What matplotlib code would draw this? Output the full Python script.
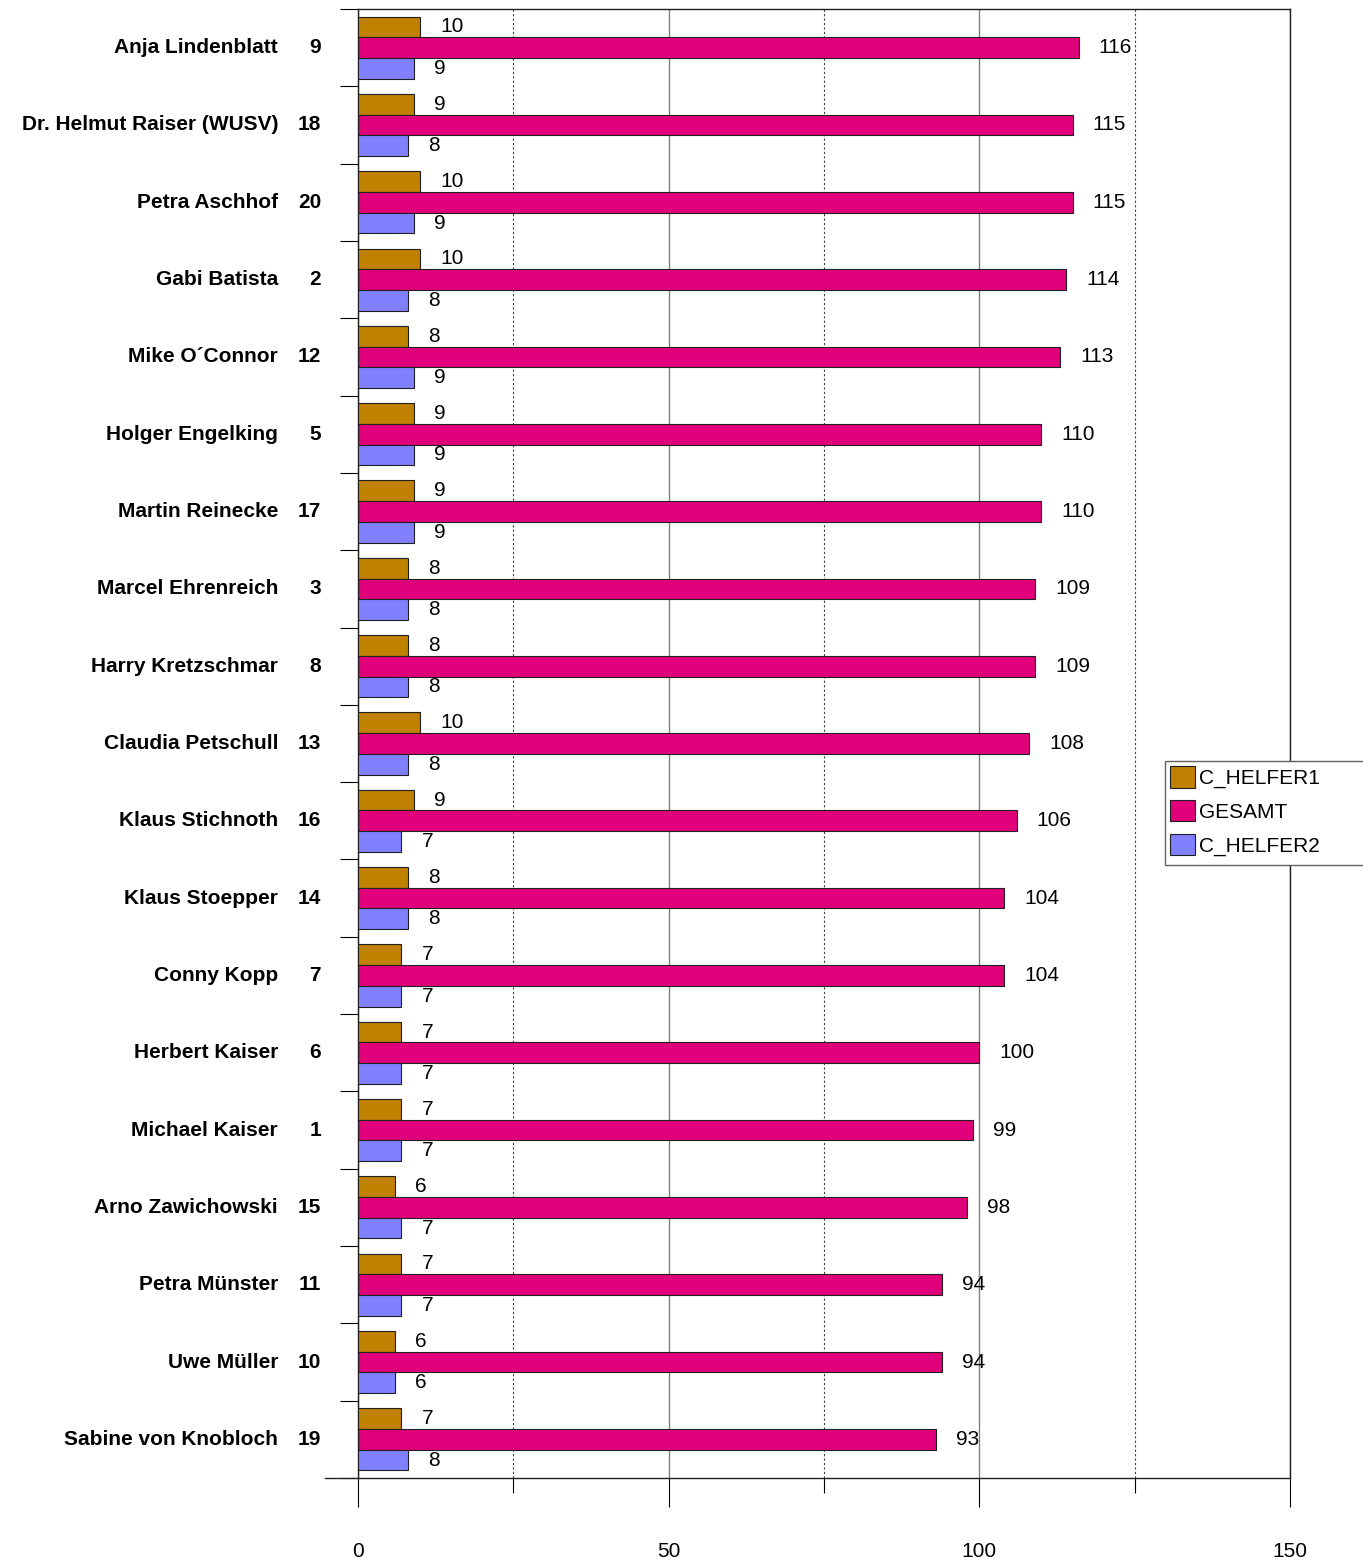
import numpy as np
import matplotlib
matplotlib.use('Agg')
import matplotlib.pyplot as plt
from matplotlib.patches import Rectangle
from matplotlib.ticker import MultipleLocator, FixedLocator

plt.rcParams['font.family'] = ['Liberation Sans', 'DejaVu Sans']

#============================================
# data, top to bottom
names = ['Anja Lindenblatt', 'Dr. Helmut Raiser (WUSV)', 'Petra Aschhof', 'Gabi Batista',
         'Mike O\u00b4Connor', 'Holger Engelking', 'Martin Reinecke', 'Marcel Ehrenreich',
         'Harry Kretzschmar', 'Claudia Petschull', 'Klaus Stichnoth', 'Klaus Stoepper',
         'Conny Kopp', 'Herbert Kaiser', 'Michael Kaiser', 'Arno Zawichowski',
         'Petra M\u00fcnster', 'Uwe M\u00fcller', 'Sabine von Knobloch']
start_no = [9, 18, 20, 2, 12, 5, 17, 3, 8, 13, 16, 14, 7, 6, 1, 15, 11, 10, 19]
helfer1 = [10, 9, 10, 10, 8, 9, 9, 8, 8, 10, 9, 8, 7, 7, 7, 6, 7, 6, 7]
gesamt = [116, 115, 115, 114, 113, 110, 110, 109, 109, 108, 106, 104, 104, 100, 99, 98, 94, 94, 93]
helfer2 = [9, 8, 9, 8, 9, 9, 9, 8, 8, 8, 7, 8, 7, 7, 7, 7, 7, 6, 8]

series = [('C_HELFER1', helfer1, '#C08000'),
          ('GESAMT', gesamt, '#E0007A'),
          ('C_HELFER2', helfer2, '#8080FF')]

fig = plt.figure(figsize=(13.63, 15.62), dpi=100)
ax = fig.add_axes([358/1363, 84/1562, (1290-358)/1363, (1478-9)/1562])

ypos = np.arange(len(names))
h = 0.268
for k, (lab, vals, col) in enumerate(series):
    y = ypos + (k - 1) * h
    ax.barh(y, vals, height=h, color=col, edgecolor='#202020', linewidth=0.8, label=lab, zorder=3)
    for yi, v in zip(y, vals):
        ax.annotate(str(v), xy=(v, yi), xytext=(14.4, 0), textcoords='offset points',
                    ha='left', va='center', fontsize=15, zorder=4)

# category labels: name + start number
for yi, nm, no in zip(ypos, names, start_no):
    ax.annotate(nm, xy=(0, yi), xycoords=('axes fraction', 'data'), xytext=(-57.6, 0),
                textcoords='offset points', ha='right', va='center', fontsize=15, fontweight='bold')
    ax.annotate(str(no), xy=(0, yi), xycoords=('axes fraction', 'data'), xytext=(-26.6, 0),
                textcoords='offset points', ha='right', va='center', fontsize=15, fontweight='bold')

ax.set_xlim(0, 150)
ax.set_ylim(len(names) - 0.5, -0.5)

ax.xaxis.set_major_locator(MultipleLocator(50))
ax.xaxis.set_minor_locator(MultipleLocator(25))
ax.tick_params(axis='x', which='major', direction='out', length=21, width=0.8, pad=25, labelsize=15)
ax.tick_params(axis='x', which='minor', direction='out', length=11, width=0.8)

ax.set_yticks([])
ax.yaxis.set_minor_locator(FixedLocator(np.arange(len(names) + 1) - 0.5))
ax.tick_params(axis='y', which='minor', direction='out', length=13, width=0.8)

ax.grid(axis='x', which='major', color='#808080', linestyle='-', linewidth=1.0, zorder=0)
ax.grid(axis='x', which='minor', color='#404040', linestyle=(0, (2, 2)), linewidth=0.8, zorder=0)

for s in ['top', 'right', 'left', 'bottom']:
    ax.spines[s].set_color('#202020')
    ax.spines[s].set_linewidth(1.0)
# bottom axis line reaches a bit further left
ax.plot([-0.035, 0], [0, 0], transform=ax.transAxes, color='#202020', lw=1.0, clip_on=False)

# legend box runs past the right edge of the picture, so draw the frame by hand
frame = Rectangle((1165/1363, 1 - 865/1562), (1380 - 1165)/1363, 104/1562,
                  transform=fig.transFigure, facecolor='white', edgecolor='#606060',
                  linewidth=1.0, zorder=4)
fig.patches.append(frame)

handles, labels = ax.get_legend_handles_labels()
leg = fig.legend(handles, labels, loc='upper left', bbox_to_anchor=(1165/1363, 1 - 761/1562),
                 bbox_transform=fig.transFigure, fontsize=15, frameon=False,
                 handlelength=1.2, handleheight=1.2, handletextpad=0.2, labelspacing=0.57,
                 borderpad=0.25, borderaxespad=0)
leg.set_zorder(5)

plt.savefig('out.png', dpi=100)
